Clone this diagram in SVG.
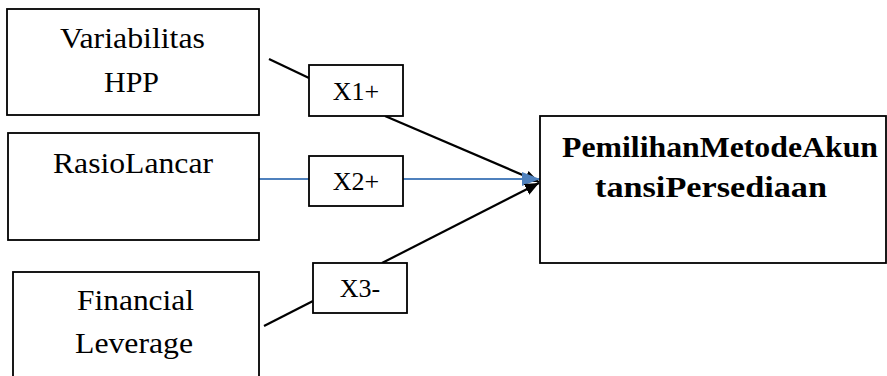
<svg xmlns="http://www.w3.org/2000/svg" width="887" height="376" viewBox="0 0 887 376">
<style>
.box{fill:#fff;stroke:#000;stroke-width:1.8}
.t{font-family:"Liberation Serif","Times New Roman",serif;font-size:30px;fill:#000;text-anchor:middle}
.b{font-weight:bold}
.l{font-size:26px}
.k{stroke:#000;stroke-width:2.2;fill:none}
.u{stroke:#4F81BD;stroke-width:2.2;fill:none}
</style>
<defs>
<marker id="ak" viewBox="0 0 14 12" refX="14" refY="6" markerWidth="14" markerHeight="12" markerUnits="userSpaceOnUse" orient="auto"><path d="M0,0 L14,6 L0,12 z" fill="#000"/></marker>
<marker id="ab" viewBox="0 0 18 14" refX="18" refY="7" markerWidth="18" markerHeight="14" markerUnits="userSpaceOnUse" orient="auto"><path d="M0,0 L18,7 L0,14 z" fill="#4F81BD"/></marker>
</defs>
<g id="connectors">
<line class="k" x1="269" y1="59" x2="309" y2="78"/>
<line class="k" x1="385" y1="116" x2="539" y2="182" marker-end="url(#ak)"/>
<line class="u" x1="259" y1="179" x2="309" y2="179"/>
<line class="u" x1="403" y1="179" x2="540" y2="179" marker-end="url(#ab)"/>
<line class="k" x1="264" y1="326" x2="313" y2="301"/>
<line class="k" x1="382" y1="263" x2="539" y2="183" marker-end="url(#ak)"/>
</g>
<g id="n1"><rect class="box" x="7" y="9" width="252" height="106"/>
<text class="t" x="132.5" y="48" textLength="145" lengthAdjust="spacingAndGlyphs">Variabilitas</text>
<text class="t" x="131.5" y="92">HPP</text></g>
<g id="n2"><rect class="box" x="8" y="133" width="251" height="107"/>
<text class="t" x="133" y="173" textLength="160" lengthAdjust="spacingAndGlyphs">RasioLancar</text></g>
<g id="n3"><rect class="box" x="13" y="272" width="246" height="108"/>
<text class="t" x="135.5" y="310" textLength="117" lengthAdjust="spacingAndGlyphs">Financial</text>
<text class="t" x="134" y="353" textLength="118" lengthAdjust="spacingAndGlyphs">Leverage</text></g>
<g id="x1"><rect class="box" x="309" y="65" width="94" height="51"/>
<text class="t l" x="356" y="100">X1+</text></g>
<g id="x2"><rect class="box" x="309" y="156" width="94" height="50"/>
<text class="t l" x="356" y="190">X2+</text></g>
<g id="x3"><rect class="box" x="313" y="263" width="94" height="50"/>
<text class="t l" x="360" y="297">X3-</text></g>
<g id="n4"><rect class="box" x="540" y="116" width="346" height="147"/>
<text class="t b" x="720" y="157" textLength="316" lengthAdjust="spacingAndGlyphs">PemilihanMetodeAkun</text>
<text class="t b" x="711" y="197" textLength="232" lengthAdjust="spacingAndGlyphs">tansiPersediaan</text></g>
</svg>
